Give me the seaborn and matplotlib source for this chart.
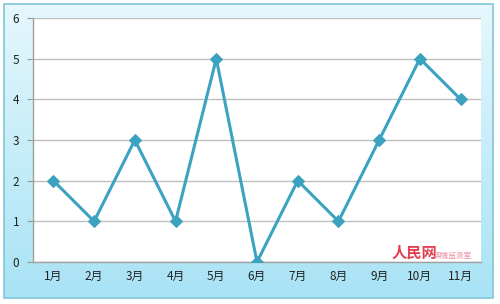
import numpy as np
import pandas as pd
import matplotlib.pyplot as plt
import matplotlib.patches as mpatches
import seaborn as sns

# === DATA ===
months = ["1月", "2月", "3月", "4月", "5月", "6月", "7月", "8月", "9月", "10月", "11月"]
counts = [2, 1, 3, 1, 5, 0, 2, 1, 3, 5, 4]
y_ticks = [0, 1, 2, 3, 4, 5, 6]

# === SETTINGS ===
sns.set_style("white")
plt.rcParams["font.family"] = ["Noto Sans CJK SC", "DejaVu Sans"]

df = pd.DataFrame({"month": months, "count": counts})
df["pos"] = range(len(df))

fig = plt.figure(figsize=(5, 3.04), dpi=100)

# background frame with vertical gradient
bg = fig.add_axes([0, 0, 1, 1])
bg.set_xlim(0, 500)
bg.set_ylim(304, 0)
bg.axis("off")
grad = np.linspace(0, 1, 256).reshape(-1, 1)
top_c = np.array([0.90, 0.97, 0.99])
bot_c = np.array([0.66, 0.89, 0.96])
img = top_c + grad[..., None] * (bot_c - top_c)
bg.imshow(img, extent=[4, 493, 298, 4], aspect="auto", zorder=0)
bg.add_patch(mpatches.Rectangle((4, 4), 489, 294, fill=False,
                                edgecolor="#7fc6da", linewidth=1.2, zorder=1))

# plot area
ax = fig.add_axes([33 / 500, 1 - 262 / 304, 448 / 500, 244 / 304])
ax.set_facecolor("white")
sns.lineplot(data=df, x="pos", y="count", ax=ax, color="#3ba3bf",
             linewidth=2.2, marker="D", markersize=6.5,
             markeredgecolor="#3ba3bf", zorder=3)

ax.set_xlim(-0.5, len(months) - 0.5)
ax.set_ylim(0, 6)
ax.set_yticks(y_ticks)
ax.set_yticklabels([str(v) for v in y_ticks], fontsize=8.5, color="#222222")
ax.set_xticks(range(len(months)))
ax.set_xticklabels(months, fontsize=8.5, color="#222222")
ax.set_xticks(np.arange(-0.5, len(months)), minor=True)
ax.tick_params(axis="x", which="major", length=0, pad=6)
ax.tick_params(axis="x", which="minor", length=4, color="#999999", width=0.8)
ax.tick_params(axis="y", length=4, color="#999999", width=0.8, left=True, pad=6)
ax.grid(axis="y", color="#c0c0c0", linewidth=1.0, zorder=0)
ax.set_axisbelow(True)
for side in ["top", "right"]:
    ax.spines[side].set_visible(False)
for side in ["left", "bottom"]:
    ax.spines[side].set_color("#a0a0a0")
    ax.spines[side].set_linewidth(1.0)
ax.set_xlabel("")
ax.set_ylabel("")

# watermark
fig.text(0.784, 0.142, "人民网", fontsize=11, color="#e04050", style="italic",
         fontweight="bold", ha="left", va="bottom")
fig.text(0.868, 0.146, "舆情监测室", fontsize=5.5, color="#f090a0",
         ha="left", va="bottom")

plt.savefig("out.png", dpi=100)
plt.close()
